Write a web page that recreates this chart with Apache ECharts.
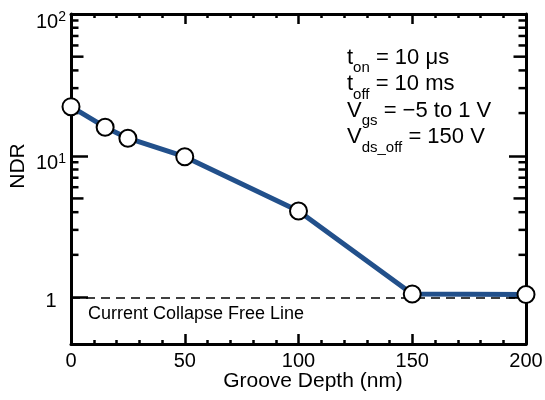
<!DOCTYPE html>
<html>
<head>
<meta charset="utf-8">
<script src="https://cdn.jsdelivr.net/npm/echarts@6/dist/echarts.min.js"></script>
<style>html,body{margin:0;padding:0;background:#fff;}#c{width:545px;height:400px;}</style>
</head>
<body>
<div id="c"></div>
<script>
// ---- data ----
const grooveDepth = [0, 15, 25, 50, 100, 150, 200];
const ndr = [22.2, 15.9, 13.3, 9.85, 4.08, 1.06, 1.05];
const xTickInterval = 50;
const yMajorTicks = [1, 10, 100];
const yMinorTicks = [2, 3, 4, 5, 6, 7, 8, 9, 20, 30, 40, 50, 60, 70, 80, 90];
const collapseFreeLevel = 1;
const annotations = [
  ['t', 'on', ' = 10 μs'],
  ['t', 'off', ' = 10 ms'],
  ['V', 'gs', ' = −5 to 1 V'],
  ['V', 'ds_off', ' = 150 V']
];

const X_MIN = 0, X_MAX = 200, Y_MIN = 0.47, Y_MAX = 100;
const FONT = "'Liberation Sans', Arial, Helvetica, sans-serif";
const AX = { color: '#000', width: 3 };

const chart = echarts.init(document.getElementById('c'), null, { renderer: 'canvas' });

function yLabel(v) {
  const l = Math.log10(v);
  if (Math.abs(l - Math.round(l)) > 1e-6) return '';
  const e = Math.round(l);
  if (yMajorTicks.indexOf(Math.pow(10, e)) < 0) return '';
  if (e === 0) return '{p|1}';
  return '{m|10}{s|' + e + '}';
}

const labelRich = {
  m: { fontSize: 20, lineHeight: 20, fontFamily: FONT, color: '#000', verticalAlign: 'top', padding: [8, 0, 0, 0] },
  s: { fontSize: 14, lineHeight: 14, fontFamily: FONT, color: '#000', verticalAlign: 'top', padding: [6, 0, 0, 0] },
  p: { fontSize: 20, lineHeight: 20, fontFamily: FONT, color: '#000', verticalAlign: 'top', padding: [4, 0, 0, 0] }
};

const annRich = {
  b: { fontSize: 22, lineHeight: 22, fontFamily: FONT, color: '#000', verticalAlign: 'top' },
  u: { fontSize: 15, lineHeight: 15, fontFamily: FONT, color: '#000', verticalAlign: 'top', padding: [14, 0, 0, 0] }
};
const annTops = [46.5, 73, 99.5, 126];

const graphics = annotations.map((a, i) => ({
  type: 'text', left: 347, top: annTops[i], z: 100,
  style: { text: '{b|' + a[0] + '}{u|' + a[1] + '}{b|' + a[2] + '}', rich: annRich, fill: '#000' }
}));
graphics.push({
  type: 'text', x: 88, y: 314, z: 100,
  style: { text: 'Current Collapse Free Line', font: '18px ' + FONT, fill: '#000', align: 'left', verticalAlign: 'middle' }
});
graphics.push({
  type: 'text', x: 313, y: 381, z: 100,
  style: { text: 'Groove Depth (nm)', font: '21px ' + FONT, fill: '#000', align: 'center', verticalAlign: 'middle' }
});
graphics.push({
  type: 'text', x: 18, y: 166, rotation: Math.PI / 2, z: 100,
  style: { text: 'NDR', font: '21px ' + FONT, fill: '#000', align: 'center', verticalAlign: 'middle' }
});

const xCommon = {
  type: 'value', min: X_MIN, max: X_MAX, interval: xTickInterval,
  axisLine: { show: true, onZero: false, lineStyle: AX },
  axisTick: { show: true, inside: true, length: 10, lineStyle: { color: '#000', width: 2.5 } },
  minorTick: { show: true, splitNumber: 5, length: 4, lineStyle: { color: '#000', width: 2.5 } },
  splitLine: { show: false }, minorSplitLine: { show: false }
};
const yCommon = {
  type: 'log', logBase: 10, min: Y_MIN, max: Y_MAX,
  axisLine: { show: true, onZero: false, lineStyle: AX },
  axisTick: { show: true, inside: true, length: 17, lineStyle: { color: '#000', width: 2.5 } },
  splitLine: { show: false }
};

chart.setOption({
  animation: false,
  backgroundColor: '#fff',
  grid: { left: 71, right: 19, top: 14, bottom: 56, containLabel: false, outerBoundsMode: 'none' },
  xAxis: [
    Object.assign({}, xCommon, {
      position: 'bottom',
      axisLabel: { show: true, margin: 7, fontSize: 20, fontFamily: FONT, color: '#000' }
    }),
    Object.assign({}, xCommon, { position: 'top', axisLabel: { show: false } })
  ],
  yAxis: [
    Object.assign({}, yCommon, {
      position: 'left',
      axisLabel: { show: true, margin: 20, align: 'center', formatter: yLabel, rich: labelRich }
    }),
    Object.assign({}, yCommon, { position: 'right', axisLabel: { show: false } })
  ],
  graphic: graphics,
  series: [
    {
      type: 'custom',
      coordinateSystem: 'cartesian2d',
      xAxisIndex: 0, yAxisIndex: 0,
      silent: true, clip: false, z: 1,
      data: yMinorTicks.map(v => [X_MIN, v]),
      renderItem: function (params, api) {
        const v = api.value(1);
        const pl = api.coord([X_MIN, v]);
        const pr = api.coord([X_MAX, v]);
        const len = (v === 5 || v === 50) ? 11 : 6;
        const st = { stroke: '#000', lineWidth: 2.5 };
        return {
          type: 'group',
          children: [
            { type: 'line', shape: { x1: pl[0], y1: pl[1], x2: pl[0] + len + 1.5, y2: pl[1] }, style: st },
            { type: 'line', shape: { x1: pr[0], y1: pr[1], x2: pr[0] - len - 1.5, y2: pr[1] }, style: st }
          ]
        };
      }
    },
    {
      type: 'line',
      xAxisIndex: 0, yAxisIndex: 0,
      data: grooveDepth.map((x, i) => [x, ndr[i]]),
      clip: false, z: 5,
      symbol: 'circle', symbolSize: 17,
      itemStyle: { color: '#fff', borderColor: '#000', borderWidth: 2 },
      lineStyle: { color: '#22508b', width: 5 },
      markLine: {
        silent: true, symbol: 'none', animation: false,
        label: { show: false },
        lineStyle: { color: '#000', width: 1.5, type: [9, 6] },
        data: [{ yAxis: collapseFreeLevel }]
      }
    }
  ]
});
</script>
</body>
</html>
